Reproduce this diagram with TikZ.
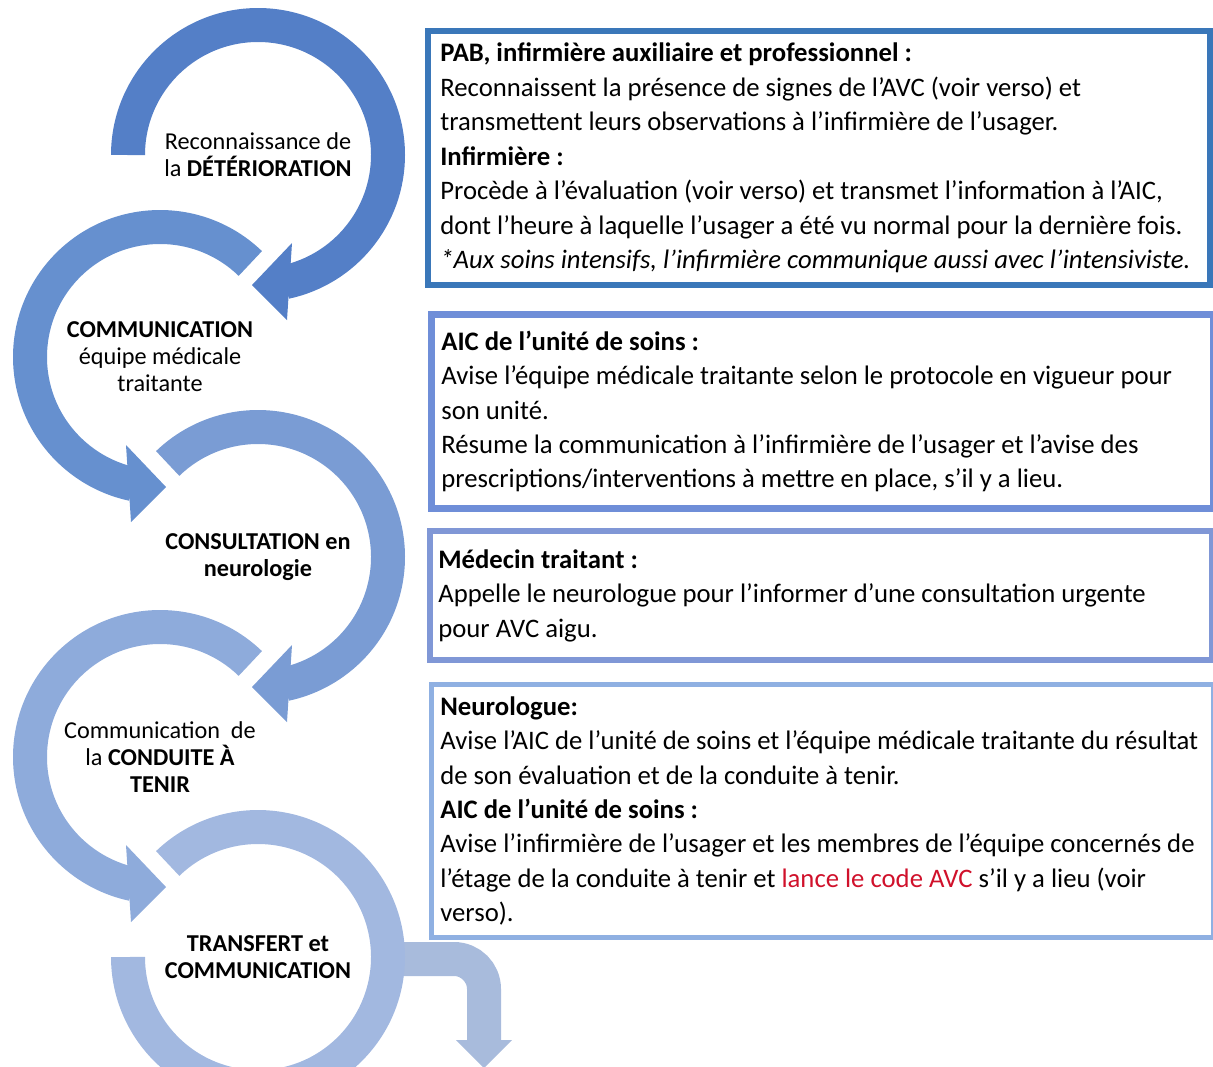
\documentclass[tikz,border=0pt]{standalone}
\usepackage{fontspec}
\setmainfont{Carlito}
\usepackage{xcolor}
\usetikzlibrary{arrows.meta,calc,positioning}
\definecolor{ringone}{HTML}{547FC7}
\definecolor{ringtwo}{HTML}{6690CF}
\definecolor{ringthree}{HTML}{7A9CD4}
\definecolor{ringfour}{HTML}{8EABDB}
\definecolor{ringfive}{HTML}{A2B8E0}
\definecolor{exitblue}{HTML}{A8BBDC}
\definecolor{frameone}{HTML}{3A77B9}
\definecolor{frametwo}{HTML}{6F8ED8}
\definecolor{framethree}{HTML}{8097D6}
\definecolor{framefour}{HTML}{8FB0E2}
\definecolor{codered}{HTML}{D0112B}

\begin{document}
\begin{tikzpicture}[x=0.02cm, y=0.02cm]
  \tikzset{ring/.style={line width=0.68cm},
    stage/.style={align=center, inner sep=0pt, font=\fontsize{13.8}{15.3}\selectfont},
    frame/.style={draw, anchor=north west, minimum width=15.64cm, inner sep=0pt},
    infotext/.style={anchor=west, align=left, inner sep=0pt, font=\fontsize{15.2}{19.6}\selectfont}}
  \useasboundingbox (0,0) rectangle (1213,-1066);
  \node[stage] (s1) at (258,-155) {Reconnaissance de\\la \textbf{DÉTÉRIORATION}};
  \node[stage] (s2) at (160,-357) {\textbf{COMMUNICATION}\\équipe médicale\\traitante};
  \node[stage] (s3) at (258,-557) {\textbf{CONSULTATION en}\\\textbf{neurologie}};
  \node[stage] (s4) at (160,-757) {Communication\ \ de\\la \textbf{CONDUITE À}\\\textbf{TENIR}};
  \node[stage] (s5) at (258,-957) {\textbf{TRANSFERT et}\\\textbf{COMMUNICATION}};
  \coordinate (exit) at (484,-1068);
  \draw[ring, exitblue, rounded corners=0.6cm] ($(s5)+(135,-2)$) -- ($(s5)+(226,-2)$) -- ($(exit)+(0,28)$);
  \fill[exitblue] ($(exit)+(-28,28)$) -- ($(exit)+(28,28)$) -- (exit) -- cycle;
  \draw[ring, ringone] ($(s1)+(180:130)$) arc[start angle=180, end angle=-78, radius=130];
  \fill[ringone] ($(s1)+(34,-88)$) -- ($(s1)+(-6,-130)$) -- ($(s1)+(29,-165)$) -- cycle;
  \draw[ring, ringtwo] ($(s2)+(46:130)$) arc[start angle=46, end angle=258, radius=130];
  \fill[ringtwo] ($(s2)+(-34,-88)$) -- ($(s2)+(6,-130)$) -- ($(s2)+(-29,-165)$) -- cycle;
  \draw[ring, ringthree] ($(s3)+(134:130)$) arc[start angle=134, end angle=-78, radius=130];
  \fill[ringthree] ($(s3)+(34,-88)$) -- ($(s3)+(-6,-130)$) -- ($(s3)+(29,-165)$) -- cycle;
  \draw[ring, ringfour] ($(s4)+(46:130)$) arc[start angle=46, end angle=258, radius=130];
  \fill[ringfour] ($(s4)+(-34,-88)$) -- ($(s4)+(6,-130)$) -- ($(s4)+(-29,-165)$) -- cycle;
  \draw[ring, ringfive] ($(s5)+(134:130)$) arc[start angle=134, end angle=-180, radius=130];

  \node[frame, frameone, line width=0.12cm, minimum height=5.08cm] (boxA) at (425,-28) {};
  \node[infotext, right=0.3cm of boxA.west] (txtA) {\textbf{PAB, infirmière auxiliaire et professionnel :}\\
    Reconnaissent la présence de signes de l’AVC (voir verso) et\\
    transmettent leurs observations à l’infirmière de l’usager.\\
    \textbf{Infirmière :}\\
    Procède à l’évaluation (voir verso) et transmet l’information à l’AIC,\\
    dont l’heure à laquelle l’usager a été vu normal pour la dernière fois.\\
    \textit{*Aux soins intensifs, l’infirmière communique aussi avec l’intensiviste.}};
  \node[frame, frametwo, line width=0.14cm, minimum height=3.88cm] (boxB) at (428,-311) {};
  \node[infotext, right=0.26cm of boxB.west] (txtB) {\textbf{AIC de l’unité de soins :}\\
    Avise l’équipe médicale traitante selon le protocole en vigueur pour\\
    son unité.\\
    Résume la communication à l’infirmière de l’usager et l’avise des\\
    prescriptions/interventions à mettre en place, s’il y a lieu.};
  \node[frame, framethree, line width=0.12cm, minimum height=2.58cm] (boxC) at (427,-528) {};
  \node[infotext, right=0.22cm of boxC.west] (txtC) {\textbf{Médecin traitant :}\\
    Appelle le neurologue pour l’informer d’une consultation urgente\\
    pour AVC aigu.};
  \node[frame, framefour, line width=0.1cm, minimum height=5.06cm] (boxD) at (429,-682) {};
  \node[infotext, right=0.22cm of boxD.west] (txtD) {\textbf{Neurologue:}\\
    Avise l’AIC de l’unité de soins et l’équipe médicale traitante du résultat\\
    de son évaluation et de la conduite à tenir.\\
    \textbf{AIC de l’unité de soins :}\\
    Avise l’infirmière de l’usager et les membres de l’équipe concernés de\\
    l’étage de la conduite à tenir et \textcolor{codered}{lance le code AVC} s’il y a lieu (voir\\
    verso).};
\end{tikzpicture}
\end{document}
